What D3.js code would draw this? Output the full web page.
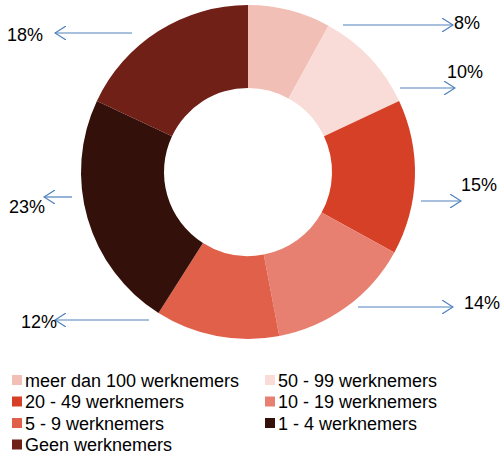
<!DOCTYPE html>
<html>
<head>
<meta charset="utf-8">
<script src="https://cdn.jsdelivr.net/npm/d3@7"></script>
<style>
  body { margin: 0; background: #fff; }
  svg { display: block; font-family: "Liberation Sans", Arial, sans-serif; }
</style>
</head>
<body>
<svg id="chart" width="502" height="451"></svg>
<script>
// data
const categories = ["meer dan 100 werknemers", "50 - 99 werknemers", "20 - 49 werknemers",
  "10 - 19 werknemers", "5 - 9 werknemers", "1 - 4 werknemers", "Geen werknemers"];
const values = [8, 10, 15, 14, 12, 23, 18];
const colors = ["#F2BFB6", "#F9DCD8", "#D64027", "#E78070", "#E0604A", "#33110A", "#702017"];

// label placement: arrow start x, arrow end x, arrow y, text x, text y
const labelPos = [
  {x1: 343, x2: 453, y: 25, tx: 454, ty: 29},
  {x1: 400, x2: 455, y: 88, tx: 447, ty: 78},
  {x1: 421, x2: 461, y: 201, tx: 461, ty: 191},
  {x1: 358, x2: 453, y: 307, tx: 464, ty: 309},
  {x1: 149, x2: 55, y: 320, tx: 21, ty: 328},
  {x1: 72, x2: 44, y: 197, tx: 9, ty: 213},
  {x1: 132, x2: 55, y: 33, tx: 7, ty: 41}
];

const svg = d3.select("#chart");
const cx = 248, cy = 172;

let pie = d3.pie().sort(null).value(d => d);
let arc = d3.arc().innerRadius(84).outerRadius(167);

let g = svg.append("g").attr("transform", "translate(" + cx + "," + cy + ")");
g.selectAll("path")
  .data(pie(values))
  .enter().append("path")
    .attr("d", arc)
    .attr("fill", (d, i) => colors[i]);

// open arrowhead
svg.append("defs").append("marker")
    .attr("id", "arrow")
    .attr("viewBox", "0 0 12 14")
    .attr("refX", 11).attr("refY", 7)
    .attr("markerWidth", 12).attr("markerHeight", 14)
    .attr("markerUnits", "userSpaceOnUse")
    .attr("orient", "auto")
  .append("path")
    .attr("d", "M0,0 L11,7 L0,14")
    .attr("fill", "none")
    .attr("stroke", "#4F81BD")
    .attr("stroke-width", 1.2);

let labels = svg.append("g");
labels.selectAll("line")
  .data(labelPos)
  .enter().append("line")
    .attr("x1", d => d.x1).attr("x2", d => d.x2)
    .attr("y1", d => d.y).attr("y2", d => d.y)
    .attr("stroke", "#4F81BD")
    .attr("stroke-width", 1.2)
    .attr("marker-end", "url(#arrow)");

labels.selectAll("text")
  .data(labelPos)
  .enter().append("text")
    .attr("x", d => d.tx).attr("y", d => d.ty)
    .attr("font-size", 18)
    .attr("fill", "#000")
    .text((d, i) => values[i] + "%");

// legend, two columns
let legend = svg.append("g");
let item = legend.selectAll("g")
  .data(categories)
  .enter().append("g")
    .attr("transform", (d, i) => "translate(" + (i % 2 ? 265 : 12) + "," + (380 + Math.floor(i / 2) * 21.5) + ")");
item.append("rect")
    .attr("x", 0).attr("y", -5)
    .attr("width", 10).attr("height", 10)
    .attr("fill", (d, i) => colors[i]);
item.append("text")
    .attr("x", 13).attr("y", 6.5)
    .attr("font-size", 18)
    .text(d => d);
</script>
</body>
</html>
